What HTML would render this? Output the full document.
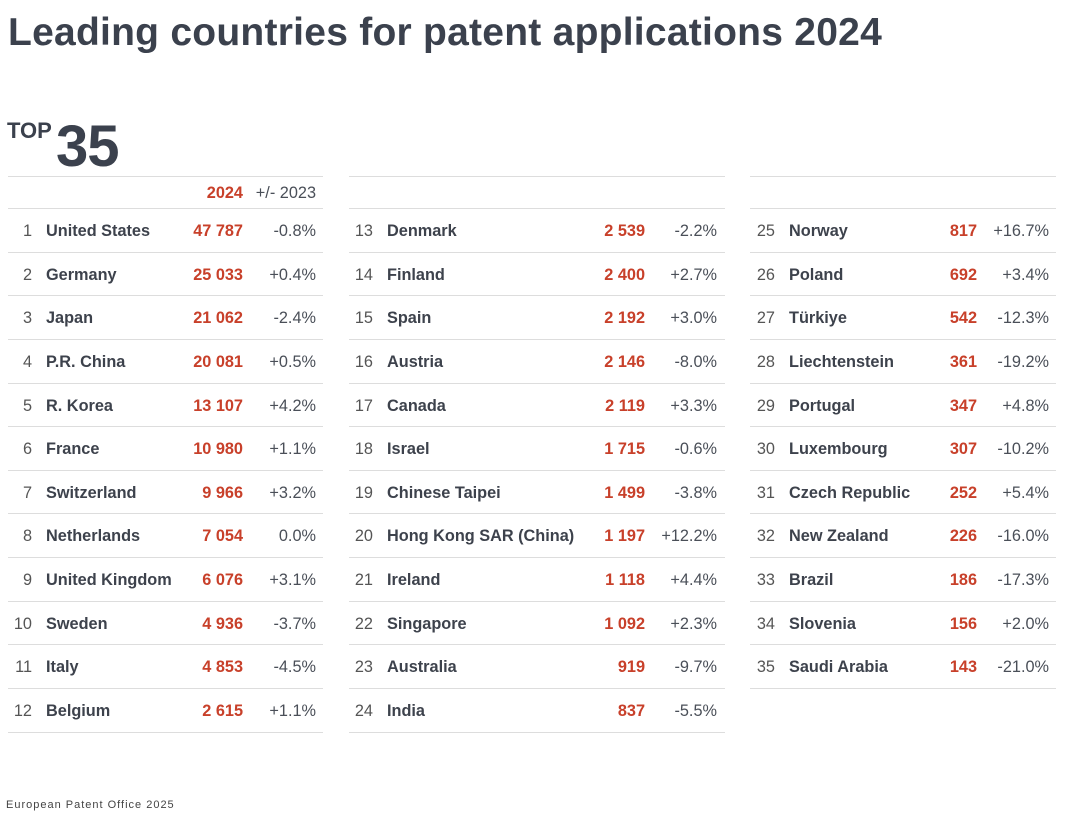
<!DOCTYPE html>
<html><head><meta charset="utf-8">
<style>
body{margin:0;width:1080px;height:814px;background:#fff;font-family:"Liberation Sans",sans-serif;color:#3d424c;position:relative;overflow:hidden}
h1{position:absolute;left:8px;top:11px;margin:0;font-size:39px;font-weight:bold;color:#3b414d;letter-spacing:0.25px}
.top{position:absolute;left:7px;top:118px;font-size:22px;font-weight:bold;color:#3b414d}
.n35{position:absolute;left:56px;top:113px;font-size:58px;font-weight:bold;color:#3b414d;letter-spacing:-1px}
.col{position:absolute;top:176px;border-top:1px solid #ddd}
.hd{height:31px;border-bottom:1px solid #ddd;position:relative;font-size:16.3px}
.r{height:42.64px;border-bottom:1px solid #ddd;position:relative;font-size:16.3px}
.r span,.hd span{position:absolute;top:13px;white-space:nowrap}
.hd span{top:7px}
.k{color:#555}
.nm{font-weight:bold;color:#3d424c}
.v{font-weight:bold;color:#c8402a}
.p{color:#4a4f58}
.foot{position:absolute;left:6px;top:799px;font-size:11px;color:#444;letter-spacing:1px}
</style></head><body>
<h1>Leading countries for patent applications 2024</h1>
<div class="top">TOP</div><div class="n35">35</div>

<div class="col" style="left:8px;width:315px">
<div class="hd"><span class="v" style="right:80px">2024</span><span class="p" style="right:7px">+/- 2023</span></div>
<div id="c1"></div>
</div>
<div class="col" style="left:349px;width:376px">
<div class="hd"></div><div id="c2"></div>
</div>
<div class="col" style="left:750px;width:306px">
<div class="hd"></div><div id="c3"></div>
</div>
<div class="foot">European Patent Office 2025</div>

<script>
const d=[
["United States","47 787","-0.8%"],["Germany","25 033","+0.4%"],["Japan","21 062","-2.4%"],["P.R. China","20 081","+0.5%"],["R. Korea","13 107","+4.2%"],["France","10 980","+1.1%"],["Switzerland","9 966","+3.2%"],["Netherlands","7 054","0.0%"],["United Kingdom","6 076","+3.1%"],["Sweden","4 936","-3.7%"],["Italy","4 853","-4.5%"],["Belgium","2 615","+1.1%"],
["Denmark","2 539","-2.2%"],["Finland","2 400","+2.7%"],["Spain","2 192","+3.0%"],["Austria","2 146","-8.0%"],["Canada","2 119","+3.3%"],["Israel","1 715","-0.6%"],["Chinese Taipei","1 499","-3.8%"],["Hong Kong SAR (China)","1 197","+12.2%"],["Ireland","1 118","+4.4%"],["Singapore","1 092","+2.3%"],["Australia","919","-9.7%"],["India","837","-5.5%"],
["Norway","817","+16.7%"],["Poland","692","+3.4%"],["Türkiye","542","-12.3%"],["Liechtenstein","361","-19.2%"],["Portugal","347","+4.8%"],["Luxembourg","307","-10.2%"],["Czech Republic","252","+5.4%"],["New Zealand","226","-16.0%"],["Brazil","186","-17.3%"],["Slovenia","156","+2.0%"],["Saudi Arabia","143","-21.0%"]];
const cfg=[[1,"c1",315,[291,38,80,7]],[2,"c2",376,[352,38,80,8]],[3,"c3",306,[281,39,79,7]]];
cfg.forEach(([c,id,w,[rk,nm,vr,pr]])=>{
 let h="";const s=(c-1)*12,e=Math.min(s+12,35);
 for(let i=s;i<e;i++){const[a,b,p]=d[i];
 h+=`<div class="r"><span class="k" style="right:${rk}px">${i+1}</span><span class="nm" style="left:${nm}px">${a}</span><span class="v" style="right:${vr}px">${b}</span><span class="p" style="right:${pr}px">${p}</span></div>`;}
 document.getElementById(id).innerHTML=h;});
</script>
</body></html>
